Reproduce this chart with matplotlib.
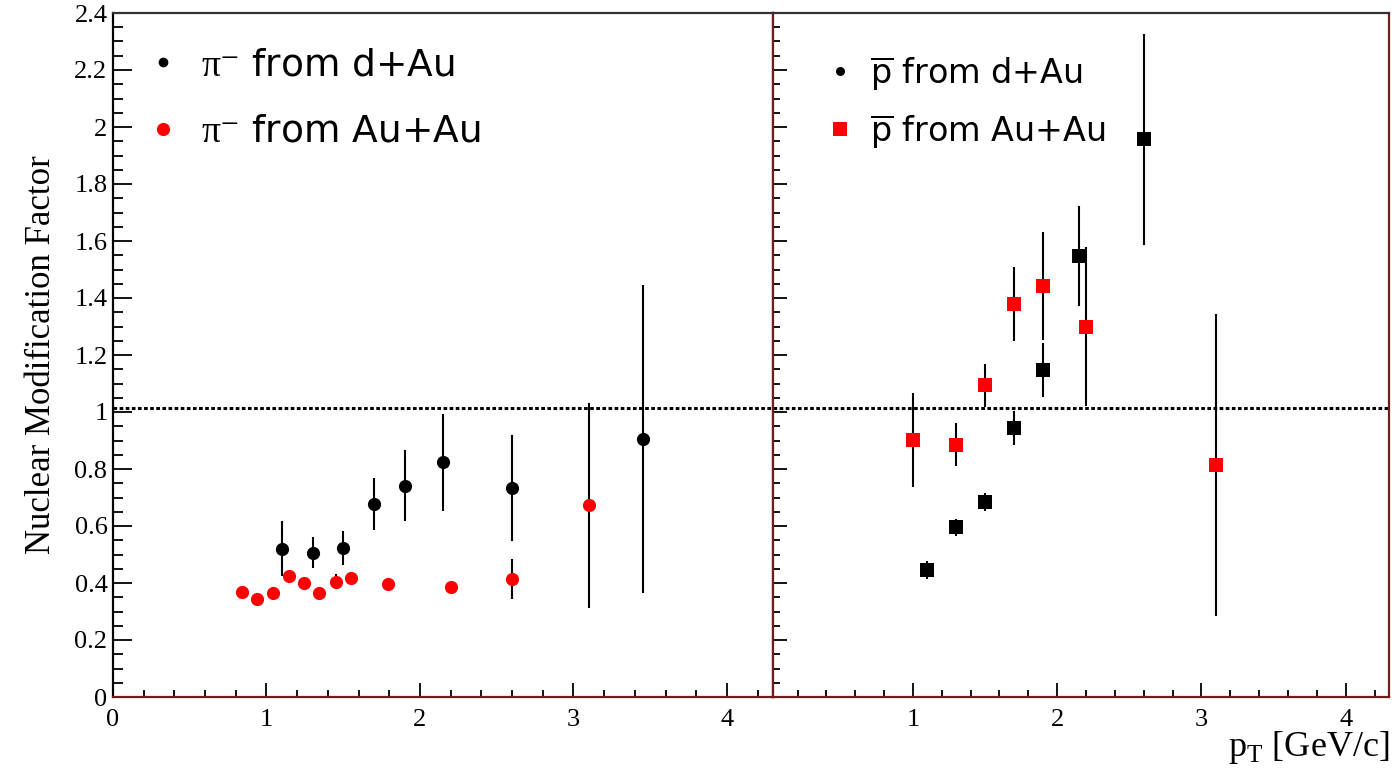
import matplotlib
matplotlib.use('Agg')
import matplotlib.pyplot as plt
from matplotlib.lines import Line2D
from matplotlib.ticker import MultipleLocator, FuncFormatter

# left panel: pi- R vs pT
pi_dau_pt = [1.1, 1.3, 1.5, 1.7, 1.9, 2.15, 2.6, 3.45]
pi_dau_r = [0.52, 0.506, 0.522, 0.677, 0.742, 0.823, 0.734, 0.906]
pi_dau_err = [0.097, 0.055, 0.06, 0.09, 0.126, 0.17, 0.185, 0.54]

pi_auau_pt = [0.84, 0.94, 1.045, 1.145, 1.245, 1.34, 1.45, 1.55, 1.79, 2.2, 2.6, 3.1]
pi_auau_r = [0.368, 0.343, 0.364, 0.426, 0.40, 0.364, 0.405, 0.417, 0.395, 0.387, 0.413, 0.672]
pi_auau_err = [0, 0, 0, 0, 0, 0, 0.025, 0.02, 0, 0, 0.07, 0.36]

# right panel: pbar R vs pT
pbar_dau_pt = [1.1, 1.3, 1.5, 1.7, 1.9, 2.15, 2.6]
pbar_dau_r = [0.446, 0.596, 0.684, 0.943, 1.147, 1.547, 1.957]
pbar_dau_err = [0.032, 0.03, 0.032, 0.06, 0.095, 0.175, 0.37]

pbar_auau_pt = [1.0, 1.3, 1.5, 1.7, 1.9, 2.2, 3.1]
pbar_auau_r = [0.903, 0.885, 1.093, 1.38, 1.442, 1.30, 0.815]
pbar_auau_err = [0.165, 0.075, 0.077, 0.13, 0.19, 0.28, 0.53]

ref_line = 1.015

plt.rcParams['mathtext.fontset'] = 'custom'
plt.rcParams['mathtext.rm'] = 'DejaVu Sans'
plt.rcParams['mathtext.it'] = 'DejaVu Sans:italic'
plt.rcParams['mathtext.sf'] = 'Liberation Serif'

W, H = 1394, 769
fig = plt.figure(figsize=(W / 100, H / 100), dpi=100)
ax1 = fig.add_axes([113 / W, 1 - 697 / H, 660 / W, 684 / H])
ax2 = fig.add_axes([773 / W, 1 - 697 / H, 616 / W, 684 / H])

frame_red = '#6e1c1c'
fmt = FuncFormatter(lambda v, p: f'{v:g}')
for ax, xmin in ((ax1, 0.0), (ax2, 0.03)):
    ax.set_xlim(xmin, 4.3)
    ax.set_ylim(0, 2.4)
    ax.xaxis.set_major_locator(MultipleLocator(1))
    ax.xaxis.set_minor_locator(MultipleLocator(0.2))
    ax.yaxis.set_major_locator(MultipleLocator(0.2))
    ax.yaxis.set_minor_locator(MultipleLocator(0.05))
    ax.xaxis.set_major_formatter(fmt)
    ax.yaxis.set_major_formatter(fmt)
    ax.axhline(ref_line, color='black', lw=2.2, ls=(0, (1.2, 0.8)), zorder=1)
    for s in ax.spines.values():
        s.set_linewidth(1.6)
    ax.spines['bottom'].set_color(frame_red)
    ax.spines['right'].set_color(frame_red)
    ax.spines['top'].set_color('#333333')
    for lab in ax.get_xticklabels() + ax.get_yticklabels():
        lab.set_family('Liberation Serif')
        lab.set_fontsize(19)

ax2.spines['left'].set_color(frame_red)

ax1.tick_params(axis='y', which='major', direction='in', length=14, width=1.3, pad=4)
ax1.tick_params(axis='y', which='minor', direction='in', length=7, width=1.3)
ax2.tick_params(axis='y', which='major', direction='in', length=10, width=1.3, labelleft=False)
ax2.tick_params(axis='y', which='minor', direction='in', length=5, width=1.3)
for ax in (ax1, ax2):
    ax.tick_params(axis='x', which='major', direction='in', length=10, width=1.3, pad=9)
    ax.tick_params(axis='x', which='minor', direction='in', length=5, width=1.3)

ebkw = dict(ls='none', ecolor='black', elinewidth=1.5, capsize=0)

ax1.errorbar(pi_dau_pt, pi_dau_r, yerr=pi_dau_err, fmt='o', color='black', ms=9.5, zorder=3, **ebkw)
ax1.errorbar(pi_auau_pt, pi_auau_r, yerr=pi_auau_err, fmt='o', color='red', ms=9.5, zorder=3, **ebkw)

ax2.errorbar(pbar_dau_pt, pbar_dau_r, yerr=pbar_dau_err, fmt='s', color='black', ms=10, zorder=3, **ebkw)
ax2.errorbar(pbar_auau_pt, pbar_auau_r, yerr=pbar_auau_err, fmt='s', color='red', ms=10, zorder=3, **ebkw)

for ax in (ax1, ax2):
    for ln in ax.get_lines():
        ln.set_markeredgewidth(0)

h1 = [Line2D([], [], ls='none', marker='o', color='black', ms=7, mew=0),
      Line2D([], [], ls='none', marker='o', color='red', ms=9.5, mew=0)]
ax1.legend(h1, [r'$\mathsf{\pi}$⁻ from d+Au', r'$\mathsf{\pi}$⁻ from Au+Au'],
           loc='upper left', bbox_to_anchor=(0.054, 0.95), frameon=False,
           prop={'family': 'DejaVu Sans', 'size': 27}, handlelength=0.75,
           handletextpad=0.65, labelspacing=0.82, borderpad=0, borderaxespad=0)

h2 = [Line2D([], [], ls='none', marker='o', color='black', ms=6.5, mew=0),
      Line2D([], [], ls='none', marker='s', color='red', ms=9.5, mew=0)]
ax2.legend(h2, [r'$\overline{\mathrm{p}}$ from d+Au', r'$\overline{\mathrm{p}}$ from Au+Au'],
           loc='upper left', bbox_to_anchor=(0.09, 0.94), frameon=False,
           prop={'family': 'DejaVu Sans', 'size': 24}, handlelength=0.7,
           handletextpad=0.55, labelspacing=0.6, borderpad=0, borderaxespad=0)

ax1.set_ylabel('Nuclear Modification Factor', family='Liberation Serif', fontsize=25, labelpad=12)
fig.text(0.997, 0.004, r'p$_{\mathsf{T}}$ [GeV/c]', family='Liberation Serif', fontsize=26,
         ha='right', va='bottom')

fig.savefig('out.png', dpi=100)
